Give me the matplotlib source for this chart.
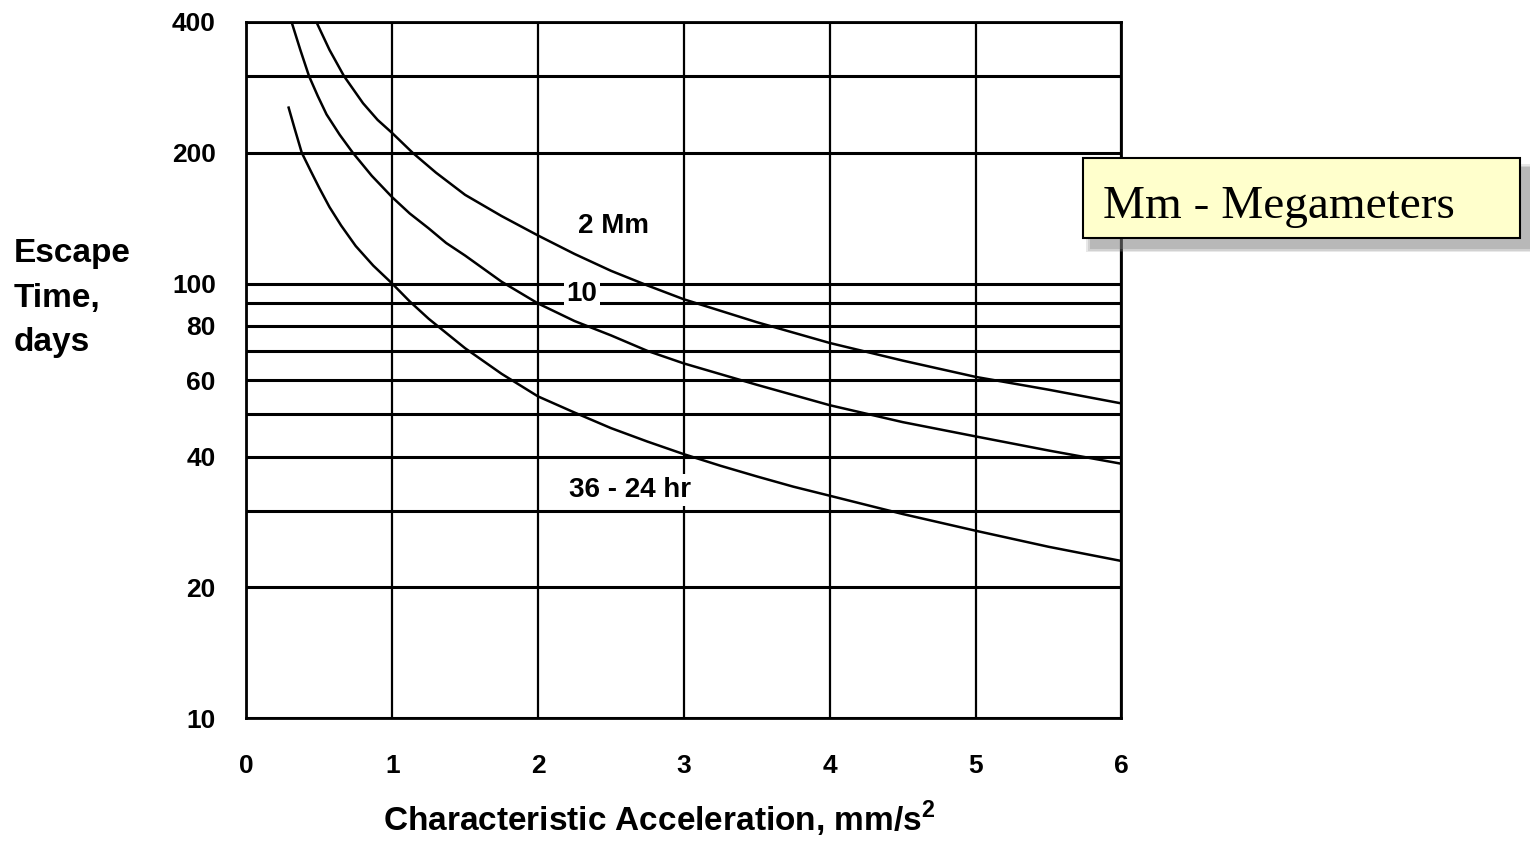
import matplotlib
matplotlib.use("Agg")
import matplotlib.pyplot as plt
from matplotlib.patches import Rectangle

plt.rcParams['font.family'] = ['Liberation Sans', 'DejaVu Sans']
plt.rcParams['mathtext.fontset'] = 'custom'
plt.rcParams['mathtext.bf'] = 'Liberation Sans:bold'
plt.rcParams['mathtext.rm'] = 'Liberation Sans:bold'

# curves (acceleration mm/s^2, escape time days)
x_2mm = [0.48, 0.57, 0.67, 0.8, 0.9, 1.0, 1.14, 1.3, 1.5, 1.75, 2.0, 2.25, 2.5, 2.75,
         3.0, 3.5, 4.0, 4.5, 5.0, 5.5, 6.0]
y_2mm = [400, 345, 300, 260, 238, 222, 200, 180, 160, 143, 129, 117, 107, 99,
         92, 81.5, 73, 66.5, 61, 57, 53]

x_10 = [0.31, 0.37, 0.43, 0.49, 0.55, 0.64, 0.73, 0.86, 1.0, 1.12, 1.25, 1.37, 1.5, 1.75,
        2.0, 2.25, 2.5, 2.75, 3.0, 3.5, 4.0, 4.5, 5.0, 5.5, 6.0]
y_10 = [400, 345, 300, 270, 245, 220, 200, 177, 158, 145, 134, 124, 116, 101,
        90, 82, 76, 70, 65.5, 58.5, 52.5, 48, 44.5, 41.3, 38.5]

x_36 = [0.29, 0.33, 0.38, 0.44, 0.5, 0.57, 0.65, 0.75, 0.87, 1.0, 1.12, 1.25, 1.37, 1.5,
        1.75, 2.0, 2.25, 2.5, 2.75, 3.0, 3.25, 3.5, 3.75, 4.0, 4.5, 5.0, 5.5, 6.0]
y_36 = [254, 228, 200, 182, 166, 150, 136, 122, 110, 100, 91, 83, 77, 71,
        62, 55, 50.5, 46.5, 43.3, 40.5, 38.1, 36, 34.1, 32.5, 29.5, 27, 24.8, 23]

y_grid = [10, 20, 30, 40, 50, 60, 70, 80, 90, 100, 200, 300, 400]
y_ticks = [10, 20, 40, 60, 80, 100, 200, 400]
x_ticks = [0, 1, 2, 3, 4, 5, 6]

fig = plt.figure(figsize=(15.3, 8.42), dpi=100)
ax = fig.add_axes([0.161, 0.147, 0.572, 0.827])
ax.set_yscale('log')
ax.set_xlim(0, 6)
ax.set_ylim(10, 400)

ax.hlines(y_grid, 0, 6, color='black', lw=2.2, zorder=1)
ax.vlines(x_ticks, 10, 400, color='black', lw=1.6, zorder=1)

for xs, ys in [(x_2mm, y_2mm), (x_10, y_10), (x_36, y_36)]:
    ax.plot(xs, ys, color='black', lw=1.8, zorder=2)

lbl = dict(fontsize=20, fontweight='bold', ha='center', va='center', zorder=3,
           bbox=dict(facecolor='white', edgecolor='none', pad=2))
ax.text(2.52, 136, '2 Mm', **lbl)
ax.text(2.3, 94.5, '10', **lbl)
ax.text(2.63, 33.5, '36 - 24 hr', **lbl)

ax.set_yticks(y_ticks)
ax.set_yticklabels([str(v) for v in y_ticks])
ax.yaxis.set_minor_locator(matplotlib.ticker.NullLocator())
ax.set_xticks(x_ticks)
ax.set_xticklabels([str(v) for v in x_ticks])
ax.tick_params(axis='y', length=0, pad=22, labelsize=19)
ax.tick_params(axis='x', length=0, pad=26, labelsize=19)
for t in ax.get_xticklabels() + ax.get_yticklabels():
    t.set_fontweight('bold')
for s in ax.spines.values():
    s.set_linewidth(2.0)

fig.text(0.009, 0.646, 'Escape\nTime,\ndays', fontsize=24, fontweight='bold',
         ha='left', va='center', linespacing=1.55)
fig.text(0.431, 0.028, r'Characteristic Acceleration, mm/s$^\mathbf{2}$',
         fontsize=24, fontweight='bold', ha='center', va='center')

# note box with drop shadow
bx0, bx1, by0, by1 = 0.708, 0.9935, 0.7173, 0.8124
for i, a in enumerate([0.18, 0.22, 0.3]):
    d = 0.003 * (3 - i)
    fig.add_artist(Rectangle((bx0 + 0.006 - d / 2, by0 - 0.012 - d / 2),
                             bx1 - bx0 + d, by1 - by0 + d,
                             transform=fig.transFigure, facecolor='#808080',
                             edgecolor='none', alpha=a, zorder=5))
fig.add_artist(Rectangle((bx0, by0), bx1 - bx0, by1 - by0,
                         transform=fig.transFigure, facecolor='#FFFFCC',
                         edgecolor='black', lw=1.5, zorder=6))
fig.text(0.721, 0.755, 'Mm - Megameters', fontsize=34, family='Liberation Serif',
         ha='left', va='center', zorder=7)

fig.savefig('out.png', dpi=100)
